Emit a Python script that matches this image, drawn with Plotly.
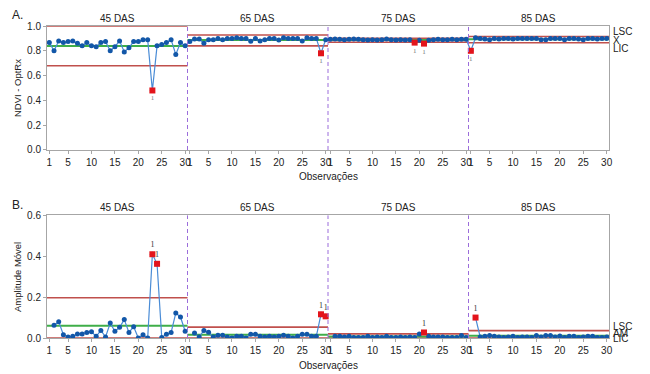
import plotly.graph_objects as go

# ---------------- data ----------------
stages = ["45 DAS", "65 DAS", "75 DAS", "85 DAS"]

ndvi_45 = [0.866, 0.80, 0.88, 0.866, 0.874, 0.88, 0.86, 0.84, 0.866, 0.84,
           0.833, 0.866, 0.874, 0.80, 0.833, 0.88, 0.79, 0.825, 0.874, 0.874,
           0.89, 0.89, 0.48, 0.84, 0.85, 0.866, 0.89, 0.77, 0.866, 0.84]
ndvi_65 = [0.874, 0.895, 0.895, 0.86, 0.89, 0.89, 0.90, 0.89, 0.90, 0.90,
           0.905, 0.90, 0.90, 0.876, 0.90, 0.88, 0.89, 0.90, 0.90, 0.887,
           0.905, 0.90, 0.90, 0.90, 0.88, 0.905, 0.90, 0.90, 0.78, 0.89]
ndvi_75 = [0.893, 0.895, 0.893, 0.89, 0.893, 0.895, 0.893, 0.89, 0.888, 0.89,
           0.887, 0.89, 0.895, 0.89, 0.888, 0.89, 0.888, 0.89, 0.866, 0.885,
           0.858, 0.885, 0.89, 0.893, 0.89, 0.89, 0.893, 0.89, 0.893, 0.893]
ndvi_85 = [0.80, 0.905, 0.90, 0.895, 0.89, 0.90, 0.895, 0.90, 0.90, 0.895,
           0.90, 0.90, 0.90, 0.90, 0.90, 0.89, 0.89, 0.90, 0.90, 0.90,
           0.89, 0.90, 0.90, 0.895, 0.89, 0.90, 0.90, 0.895, 0.90, 0.90]

# moving ranges, observations 2..30 of each stage
mr_45 = [0.062, 0.08, 0.016, 0.005, 0.008, 0.02, 0.02, 0.027, 0.03, 0.008,
         0.037, 0.005, 0.073, 0.033, 0.052, 0.09, 0.027, 0.055, 0.0, 0.016,
         0.0, 0.41, 0.363, 0.003, 0.018, 0.027, 0.122, 0.103, 0.033]
mr_65 = [0.024, 0.005, 0.037, 0.028, 0.005, 0.013, 0.013, 0.005, 0.0, 0.008,
         0.008, 0.0, 0.018, 0.018, 0.008, 0.005, 0.008, 0.005, 0.008, 0.013,
         0.008, 0.0, 0.008, 0.018, 0.018, 0.008, 0.008, 0.116, 0.106]
mr_75 = [0.008, 0.008, 0.005, 0.008, 0.003, 0.003, 0.003, 0.008, 0.003, 0.005,
         0.003, 0.008, 0.003, 0.003, 0.005, 0.003, 0.005, 0.003, 0.02, 0.027,
         0.008, 0.005, 0.005, 0.005, 0.003, 0.003, 0.003, 0.012, 0.003]
mr_85 = [0.10, 0.005, 0.008, 0.012, 0.008, 0.005, 0.003, 0.005, 0.008, 0.003,
         0.005, 0.005, 0.003, 0.012, 0.005, 0.012, 0.012, 0.005, 0.01, 0.003,
         0.008, 0.008, 0.003, 0.005, 0.008, 0.008, 0.003, 0.003, 0.005]

# control limits per stage
i_lsc = [1.0, 0.928, 0.90, 0.915]
i_cl = [0.839, 0.887, 0.887, 0.893]
i_lic = [0.68, 0.840, 0.869, 0.865]
mr_lsc = [0.197, 0.053, 0.02, 0.036]
mr_cl = [0.06, 0.016, 0.007, 0.011]
mr_lic = [0.0, 0.0, 0.0, 0.0]

# out-of-control points (stage index, observation within stage)
i_out = [(0, 23), (1, 29), (2, 19), (2, 21), (3, 1)]
mr_out = [(0, 23), (0, 24), (1, 29), (1, 30), (2, 21), (3, 2)]

tick_obs = [1, 5, 10, 15, 20, 25, 30]

# ---------------- build ----------------
N = 30
ndvi_all = [ndvi_45, ndvi_65, ndvi_75, ndvi_85]
mr_all = [mr_45, mr_65, mr_75, mr_85]

ix, iy = [], []
for s, vals in enumerate(ndvi_all):
    for j, v in enumerate(vals):
        ix.append(s * N + j + 1)
        iy.append(v)

mx, my = [], []
for s, vals in enumerate(mr_all):
    for j, v in enumerate(vals):
        mx.append(s * N + j + 2)
        my.append(v)
    mx.append(None)
    my.append(None)


def seg_lines(levels):
    xs, ys = [], []
    for s, lv in enumerate(levels):
        xs += [s * N + 0.5, (s + 1) * N + 0.5, None]
        ys += [lv, lv, None]
    return xs, ys


RED = "#c0504d"
GREEN = "#3fae49"
LINE = "#4a8cd6"
MARK = "#1257a8"
OUT = "#e3141b"

fig = go.Figure()

for (xa, ya, lsc, cl, lic) in [("x", "y", i_lsc, i_cl, i_lic),
                               ("x2", "y2", mr_lsc, mr_cl, mr_lic)]:
    for lv, col, w in [(lsc, RED, 1.6), (lic, RED, 1.6), (cl, GREEN, 2)]:
        xs, ys = seg_lines(lv)
        fig.add_trace(go.Scatter(x=xs, y=ys, mode="lines", xaxis=xa, yaxis=ya,
                                 line=dict(color=col, width=w),
                                 hoverinfo="skip", showlegend=False,
                                 cliponaxis=False))

fig.add_trace(go.Scatter(x=ix, y=iy, mode="lines+markers", xaxis="x", yaxis="y",
                         line=dict(color=LINE, width=1.2),
                         marker=dict(color=MARK, size=5), showlegend=False))
fig.add_trace(go.Scatter(x=mx, y=my, mode="lines+markers", xaxis="x2", yaxis="y2",
                         line=dict(color=LINE, width=1.2),
                         marker=dict(color=MARK, size=5), showlegend=False))

ox = [s * N + j for s, j in i_out]
oy = [ndvi_all[s][j - 1] for s, j in i_out]
fig.add_trace(go.Scatter(x=ox, y=oy, mode="markers+text", xaxis="x", yaxis="y",
                         marker=dict(color=OUT, symbol="square", size=6),
                         text=["1"] * len(ox), textposition="bottom center",
                         textfont=dict(size=7, color="#777", family="Liberation Serif"),
                         showlegend=False))
ox = [s * N + j for s, j in mr_out]
oy = [mr_all[s][j - 2] for s, j in mr_out]
fig.add_trace(go.Scatter(x=ox, y=oy, mode="markers+text", xaxis="x2", yaxis="y2",
                         marker=dict(color=OUT, symbol="square", size=6),
                         text=["1"] * len(ox), textposition="top center",
                         textfont=dict(size=8, color="#333", family="Liberation Serif"),
                         showlegend=False))

tickvals = [s * N + t for s in range(4) for t in tick_obs]
ticktext = [str(t) for s in range(4) for t in tick_obs]

FONT = "Liberation Sans, Arial, sans-serif"
axcommon = dict(showline=True, linecolor="#a6a6a6", linewidth=1, mirror=True,
                ticks="outside", ticklen=3, tickcolor="#a6a6a6",
                showgrid=False, zeroline=False,
                tickfont=dict(size=10, color="#222", family=FONT))

# page body has an 8px margin; margins compensate so the plot area sits at
# page pixels x 47..609, y 26..338
fig.update_layout(
    width=650, height=374,
    margin=dict(l=39, r=49, t=18, b=44),
    paper_bgcolor="white", plot_bgcolor="white",
    font=dict(family=FONT, size=10, color="#222"),
    xaxis=dict(domain=[0, 1], anchor="y", range=[0.5, 120.5], tickangle=0,
               tickvals=tickvals, ticktext=ticktext, **axcommon),
    yaxis=dict(domain=[0.6026, 1], anchor="x", range=[0, 1.0],
               tickvals=[0, 0.2, 0.4, 0.6, 0.8, 1.0], tickformat=".1f", **axcommon),
    xaxis2=dict(domain=[0, 1], anchor="y2", range=[0.5, 120.5], tickangle=0,
                tickvals=tickvals, ticktext=ticktext, **axcommon),
    yaxis2=dict(domain=[0, 0.393], anchor="x2", range=[0, 0.6],
                tickvals=[0, 0.2, 0.4, 0.6], tickformat=".1f", **axcommon),
)

shapes = []
for s in range(1, 4):
    for xr, yr in [("x", "y domain"), ("x2", "y2 domain")]:
        shapes.append(dict(type="line", xref=xr, yref=yr,
                           x0=s * N + 0.5, x1=s * N + 0.5, y0=0, y1=1,
                           line=dict(color="#9b6ddb", width=1, dash="4px,3px")))
fig.update_layout(shapes=shapes)

C = dict(showarrow=False, xanchor="center", yanchor="middle")
ann = []
for s, name in enumerate(stages):
    ann.append(dict(text=name, x=s * N + 15.5, xref="x", y=1.0256, yref="paper",
                    font=dict(size=10), **C))
    ann.append(dict(text=name, x=s * N + 15.5, xref="x2", y=0.4167, yref="paper",
                    font=dict(size=10), **C))
for yp in [0.519, -0.0866]:
    ann.append(dict(text="Observações", x=0.5, xref="paper", y=yp, yref="paper",
                    font=dict(size=10), **C))
ann.append(dict(text="NDVI - OptRx", x=-0.0534, xref="paper", y=0.801, yref="paper",
                textangle=-90, font=dict(size=9.5), **C))
ann.append(dict(text="Amplitude Móvel", x=-0.0534, xref="paper", y=0.1955, yref="paper",
                textangle=-90, font=dict(size=9.5), **C))
ann.append(dict(text="A.", x=-0.0658, xref="paper", xanchor="left", y=1.036,
                yref="paper", yanchor="middle", showarrow=False, font=dict(size=12)))
ann.append(dict(text="B.", x=-0.0658, xref="paper", xanchor="left", y=0.4263,
                yref="paper", yanchor="middle", showarrow=False, font=dict(size=12)))
for txt, yp in [("LSC", 0.981), ("X\u0304", 0.955), ("LIC", 0.929),
                ("LSC", 0.0353), ("AM", 0.016), ("LIC", -0.0032)]:
    ann.append(dict(text=txt, x=1, xref="paper", xanchor="left", xshift=2, y=yp,
                    yref="paper", yanchor="middle", showarrow=False,
                    font=dict(size=10)))
fig.update_layout(annotations=ann)

fig.write_html("out.html")
